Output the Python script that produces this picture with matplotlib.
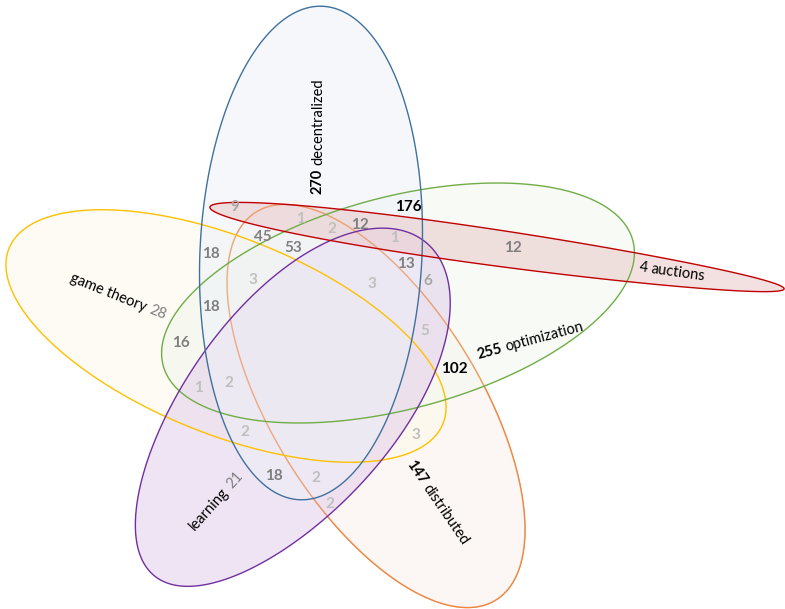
import numpy as np
import matplotlib
matplotlib.use("Agg")
import matplotlib.pyplot as plt
from matplotlib.patches import Polygon

plt.rcParams['font.family'] = ['Lato', 'DejaVu Sans']

# set names and totals (label of each shape)
set_names = ['decentralized', 'auctions', 'optimization', 'game theory', 'learning', 'distributed']
set_totals = [270, 4, 255, 28, 21, 147]

# counts written inside the intersections
region_counts = [9, 1, 2, 12, 176, 1, 45, 53, 18, 3, 3, 13, 6, 12,
                 18, 16, 5, 102, 1, 2, 2, 3, 18, 2, 2]

# layout (pixel coords, y down)
region_xy = [(235, 207), (300, 219), (332, 229), (360, 225), (408, 207), (394, 238),
             (263, 237), (293, 248), (211, 254), (253, 280), (372, 284), (406, 264),
             (428, 281), (513, 248), (211, 307), (181, 343), (425, 331), (454, 369),
             (198, 388), (229, 383), (245, 432), (416, 435), (274, 476), (316, 478),
             (330, 504)]

# cx, cy, a, b, angle, egg factor
shapes = {
    'distributed':   (376, 406, 228, 104, 58.3, 0.0),
    'game theory':   (226, 336, 234, 98, 22.0, 0.0),
    'optimization':  (398, 303, 243, 106, -14.9, 0.0),
    'learning':      (290, 409, 215, 103, -50.9, 0.08),
    'decentralized': (311, 253, 247, 111, 92.7, 0.0),
    'auctions':      (497, 248, 290, 18, 8.1, -0.15),
}
edge_col = {'decentralized': '#41719c', 'auctions': '#c00000', 'optimization': '#70ad47',
            'game theory': '#ffc000', 'learning': '#7030a0', 'distributed': '#ed7d31'}
fill_col = {'decentralized': '#edf1f9', 'auctions': '#e9c5c5', 'optimization': '#f1f7ed',
            'game theory': '#fdf9e9', 'learning': '#e1cbeb', 'distributed': '#fbf1eb'}

label_pos = {'decentralized': (318, 136, 90), 'auctions': (672, 272, -8),
             'optimization': (530, 341, 15), 'game theory': (118, 297, -22),
             'learning': (216, 501, 48), 'distributed': (437, 503, -55.5)}


def egg(cx, cy, a, b, phi, k=0.0, n=500):
    t = np.linspace(0, 2 * np.pi, n)
    lx = a * np.cos(t)
    ly = b * np.sin(t) * (1 + k * np.cos(t))
    p = np.radians(phi)
    x = cx + lx * np.cos(p) - ly * np.sin(p)
    y = cy + lx * np.sin(p) + ly * np.cos(p)
    return np.column_stack([x, y])


fig = plt.figure(figsize=(7.85, 6.09), dpi=100)
ax = fig.add_axes([0, 0, 1, 1])
ax.set_xlim(0, 785)
ax.set_ylim(609, 0)
ax.axis('off')

for i, (name, (cx, cy, a, b, phi, k)) in enumerate(shapes.items()):
    pts = egg(cx, cy, a, b, phi, k)
    ax.add_patch(Polygon(pts, closed=True, facecolor=fill_col[name], alpha=0.5,
                         edgecolor='none', zorder=1 + i))
    if name == 'distributed':
        # orange outline sits under the other fills, so it fades inside them
        ax.add_patch(Polygon(pts, closed=True, facecolor='none', edgecolor=edge_col[name],
                             lw=1.0, zorder=0.5))
        ax.add_patch(Polygon(pts, closed=True, facecolor='none', edgecolor=edge_col[name],
                             lw=1.0, alpha=0.55, zorder=10))
    else:
        ax.add_patch(Polygon(pts, closed=True, facecolor='none', edgecolor=edge_col[name],
                             lw=1.0, zorder=10))


def count_color(v):
    if v >= 100:
        return 'black'
    if v >= 10:
        return '#7f7f7f'
    if v >= 6:
        return '#a6a6a6'
    return '#bfbfbf'


for v, (x, y) in zip(region_counts, region_xy):
    ax.text(x, y, str(v), ha='center', va='center', fontsize=11, fontweight='bold',
            color=count_color(v), zorder=20)

renderer = fig.canvas.get_renderer()


def rotated_label(cx, cy, rot, parts, size=10):
    widths = []
    for s, col, wt in parts:
        t = ax.text(0, 0, s, fontsize=size, fontweight=wt)
        widths.append(t.get_window_extent(renderer).width)
        t.remove()
    gap = 3.8
    total = sum(widths) + gap * (len(parts) - 1)
    th = np.radians(rot)
    dx, dy = np.cos(th), -np.sin(th)
    x0 = cx - total / 2 * dx
    y0 = cy - total / 2 * dy
    off = 0
    for (s, col, wt), w in zip(parts, widths):
        ax.text(x0 + off * dx, y0 + off * dy, s, fontsize=size, fontweight=wt, color=col,
                rotation=rot, rotation_mode='anchor', ha='left', va='center', zorder=20)
        off += w + gap


for name, total in zip(set_names, set_totals):
    x, y, rot = label_pos[name]
    if total >= 100:
        parts = [(str(total), 'black', 'bold'), (name, 'black', 'normal')]
    elif name == 'auctions':
        parts = [(str(total), 'black', 'normal'), (name, 'black', 'normal')]
    else:
        parts = [(name, 'black', 'normal'), (str(total), '#7f7f7f', 'normal')]
    rotated_label(x, y, rot, parts, size=10.5)

fig.savefig('out.png', dpi=100)
